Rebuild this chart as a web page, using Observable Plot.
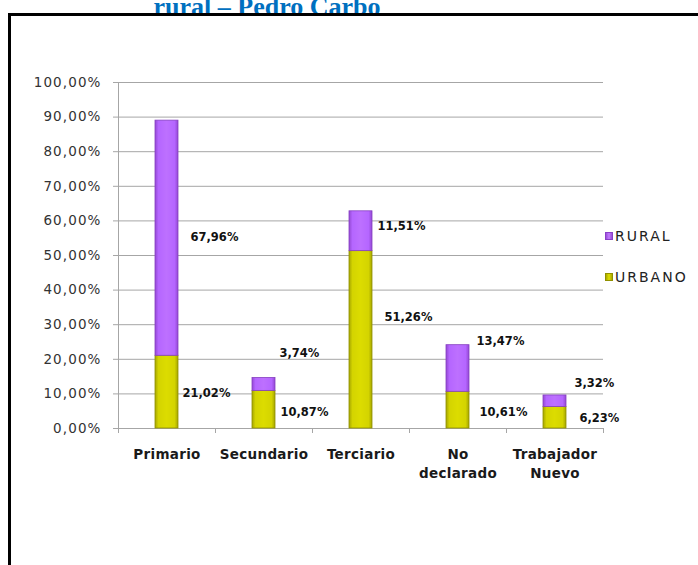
<!DOCTYPE html>
<html>
<head>
<meta charset="utf-8">
<script src="https://cdn.jsdelivr.net/npm/d3@7"></script>
<script src="https://cdn.jsdelivr.net/npm/@observablehq/plot@0.6"></script>
<style>
  html, body { margin: 0; padding: 0; background: #fff; }
  #wrap { position: relative; width: 698px; height: 565px; overflow: hidden; background: #fff; }
  #title { position: absolute; left: 0; width: 534px; top: -6px; text-align: center;
           font: bold 26px/26px "Liberation Serif", "Times New Roman", serif; color: #0070C0; white-space: nowrap; }
  #frame { position: absolute; left: 8px; top: 13px; width: 800px; height: 700px; border: 3px solid #000; box-sizing: border-box; }
  #chart { position: absolute; left: 0; top: 0; }
  .leg { position: absolute; font: 14px "DejaVu Sans", sans-serif; color: #222; letter-spacing: 2px; display: flex; align-items: center; }
  .sw { width: 8px; height: 8px; margin-right: 2px; box-sizing: border-box; }
</style>
</head>
<body>
<div id="wrap">
  <div id="title">rural – Pedro Carbo</div>
  <div id="frame"></div>
  <div id="chart"></div>
  <div class="leg" style="left:605px; top:228px;"><div class="sw" style="background:linear-gradient(90deg,#9a4fd8,#c27bff,#9a4fd8);border:1px solid #8a40c8"></div>RURAL</div>
  <div class="leg" style="left:605px; top:269px;"><div class="sw" style="background:linear-gradient(90deg,#a8a800,#e0e000,#a8a800);border:1px solid #909000"></div>URBANO</div>
</div>
<script>
const categories = ["Primario", "Secundario", "Terciario", "No declarado", "Trabajador Nuevo"];
const tickLabels = ["Primario", "Secundario", "Terciario", "No\ndeclarado", "Trabajador\nNuevo"];
const urbano = [21.02, 10.87, 51.26, 10.61, 6.23];
const rural = [67.96, 3.74, 11.51, 13.47, 3.32];
const yTicks = [0, 10, 20, 30, 40, 50, 60, 70, 80, 90, 100];
// label anchor heights (in % units)
const urbanoLabelAt = [10.3, 4.6, 32.1, 4.8, 2.9];
const ruralLabelAt = [55.2, 21.6, 58.3, 25.1, 13.0];
const urbanoLabelDx = [4, 5, 12, 10, 13];
const ruralLabelDx = [12, 4, 5, 7, 8];

const W = 698, H = 565, mL = 118, mR = 95, mT = 82, mB = 137;
const step = (W - mL - mR) / categories.length;
const half = step / 2;
const barHalf = 11.5;

const rows = categories.map((c, i) => ({
  cat: c, u: urbano[i], r: rural[i], tot: urbano[i] + rural[i],
  uAt: urbanoLabelAt[i], rAt: ruralLabelAt[i], uDx: urbanoLabelDx[i], rDx: ruralLabelDx[i]
}));
const fmt = v => v.toFixed(2).replace(".", ",") + "%";
const grid = "#a6a6a6";
const lblStyle = { textAnchor: "start", fontWeight: "bold", fontSize: 11.5, fill: "#111" };

const plot = Plot.plot({
  width: W, height: H,
  marginLeft: mL, marginRight: mR, marginTop: mT, marginBottom: mB,
  style: { fontFamily: "DejaVu Sans, sans-serif", background: "transparent", color: "#222" },
  x: { type: "band", domain: categories, padding: 0 },
  y: { domain: [0, 100] },
  marks: [
    Plot.gridY(yTicks, { stroke: grid, strokeOpacity: 1 }),
    Plot.axisY(yTicks, { tickFormat: fmt, tickSize: 5, tickPadding: 12, stroke: grid, fontSize: 13.5, fill: "#333", label: null }),
    Plot.ruleX([categories[0]], { dx: -half, y1: 0, y2: 100, stroke: grid }),
    Plot.ruleY([0], { stroke: grid }),
    Plot.ruleX(categories, { dx: -half, y1: 0, y2: 0, insetBottom: -5, stroke: grid }),
    Plot.ruleX([categories[categories.length - 1]], { dx: half, y1: 0, y2: 0, insetBottom: -5, stroke: grid }),
    Plot.axisX({ tickSize: 0, tickPadding: 17, tickFormat: d => tickLabels[categories.indexOf(d)], fontSize: 13.5, fontWeight: "bold", fill: "#1a1a1a", label: null, lineHeight: 1.4 }),
    Plot.barY(rows, { x: "cat", y1: 0, y2: "u", insetLeft: half - barHalf, insetRight: half - barHalf, fill: "url(#gU)", stroke: "#8f8f00", strokeWidth: 0.8 }),
    Plot.barY(rows, { x: "cat", y1: "u", y2: "tot", insetLeft: half - barHalf, insetRight: half - barHalf, fill: "url(#gR)", stroke: "#8540c0", strokeWidth: 0.8 }),
    ...rows.flatMap(r => [
      Plot.text([r], { x: "cat", y: "uAt", text: d => fmt(d.u), dx: barHalf + r.uDx, ...lblStyle }),
      Plot.text([r], { x: "cat", y: "rAt", text: d => fmt(d.r), dx: barHalf + r.rDx, ...lblStyle })
    ])
  ]
});

// slight letter spacing to mimic the stretched Excel text
plot.querySelectorAll("g[aria-label='y-axis tick label'] text").forEach(t => t.setAttribute("letter-spacing", "1.1"));
plot.querySelectorAll("g[aria-label='x-axis tick label'] text").forEach(t => t.setAttribute("letter-spacing", "0.3"));

plot.insertAdjacentHTML("afterbegin", `
<defs>
  <linearGradient id="gR" x1="0" x2="1" y1="0" y2="0">
    <stop offset="0" stop-color="#9448d4"/>
    <stop offset="0.15" stop-color="#b566ff"/>
    <stop offset="0.5" stop-color="#bd70ff"/>
    <stop offset="0.85" stop-color="#b566ff"/>
    <stop offset="1" stop-color="#9448d4"/>
  </linearGradient>
  <linearGradient id="gU" x1="0" x2="1" y1="0" y2="0">
    <stop offset="0" stop-color="#a6a600"/>
    <stop offset="0.15" stop-color="#d4d400"/>
    <stop offset="0.5" stop-color="#dcdc00"/>
    <stop offset="0.85" stop-color="#d4d400"/>
    <stop offset="1" stop-color="#a6a600"/>
  </linearGradient>
</defs>`);

document.getElementById("chart").appendChild(plot);
</script>
</body>
</html>
